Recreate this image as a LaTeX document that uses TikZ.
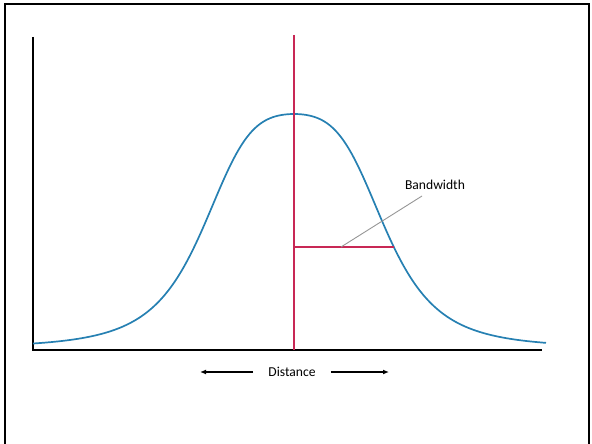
\documentclass[tikz,border=0pt]{standalone}
\usepackage{fontspec}
\setmainfont{Carlito}
\usepackage{tikz}
\usetikzlibrary{
  calc,
  positioning,
  arrows.meta
}
\definecolor{curveblue}{RGB}{38,128,178}
\definecolor{midred}{RGB}{200,40,85}
\definecolor{leadgray}{RGB}{150,150,150}

\begin{document}
\begin{tikzpicture}[> =Latex, x=1pt, y=-1pt]
  \tikzset{
    frameline/.style={line width=2.6pt},
    axisline/.style={line width=2.2pt},
    redline/.style={draw=midred, line width=1.3pt},
    bell/.style={draw=curveblue, line width=1.7pt},
    leader/.style={draw=leadgray, line width=0.9pt},
    arr/.style={->, line width=1.4pt, >={Latex[length=6pt,width=5pt]}},
    lbl/.style={font=\fontsize{13.6}{15}\selectfont, inner sep=1pt},
  }
  \useasboundingbox (0,0) rectangle (592,444);

  \draw[frameline] (5,446) -- (5,4) -- (589,4) -- (589,446);

  \coordinate (o) at (33,350);
  \coordinate (ytop) at (33,37);
  \coordinate (xend) at (542,350);
  \draw[axisline] (ytop) -- (o) -- (xend);

  \draw[bell] plot[domain=33:546, samples=200, smooth]
    (\x, {348 - 234/(1 + 0.261*((\x-294)/100)^2 + 1.065*((\x-294)/100)^4)});

  \coordinate (mtop) at (294,35);
  \coordinate (mbot) at (294,350);
  \draw[redline] (mtop) -- (mbot);

  \coordinate (hl) at (294,247);
  \coordinate (hr) at (394,247);
  \draw[redline] (hl) -- (hr);

  \node[lbl] (bw) at (435,185) {Bandwidth};
  \coordinate (lf) at (341,247);
  \coordinate (lt) at (422,196);
  \draw[leader] (lf) -- (lt);

  \node[lbl] (dist) at (292,372) {Distance};
  \coordinate (al) at (200,372);
  \coordinate (ar) at (389,372);
  \draw[arr] ([xshift=-14pt]dist.west) -- (al);
  \draw[arr] ([xshift=14pt]dist.east) -- (ar);
\end{tikzpicture}
\end{document}
